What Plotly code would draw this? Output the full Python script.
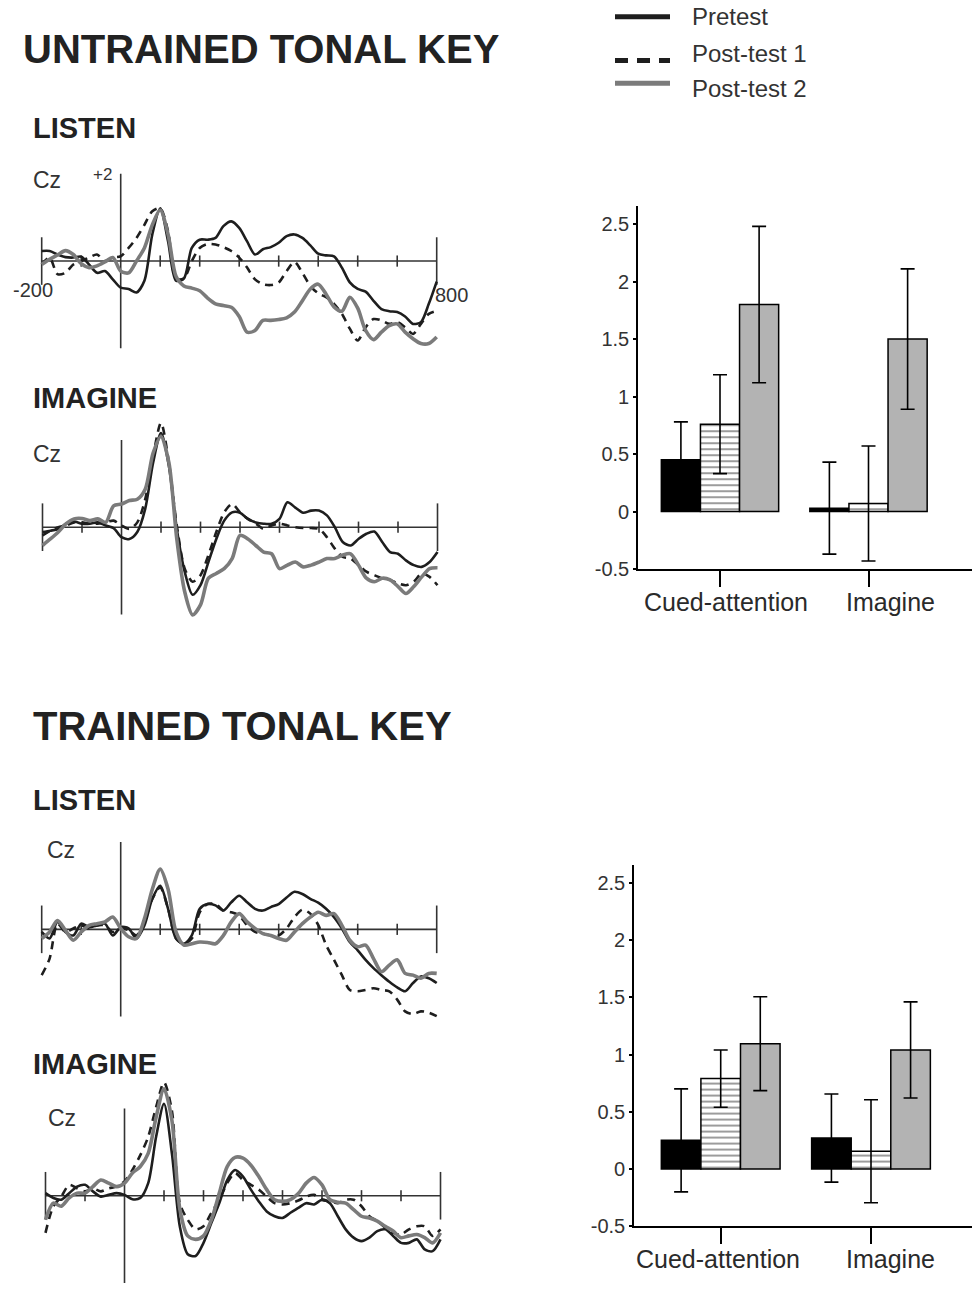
import plotly.graph_objects as go

W, H = 972, 1294
FONT = "Liberation Sans, Arial, sans-serif"

# ---------------- data ----------------
TIMES = [-200, -180, -160, -140, -120, -100, -80, -60, -40, -20, 0, 20, 40, 60, 80, 100,
         120, 140, 160, 180, 200, 220, 240, 260, 280, 300, 320, 340, 360, 380, 400, 420,
         440, 460, 480, 500, 520, 540, 560, 580, 600, 620, 640, 660, 680, 700, 720, 740,
         760, 780, 800]

SERIES = ["Pretest", "Post-test 1", "Post-test 2"]

# Untrained tonal key - LISTEN (uV)
U_LISTEN_PRE = [0.23, 0.23, 0.15, 0.09, 0.08, 0.10, -0.08, -0.27, -0.23, -0.42, -0.61, -0.64, -0.72,
                -0.45, 0.61, 1.21, 0.45, -0.45, -0.40, 0.30, 0.49, 0.49, 0.53, 0.80, 0.91, 0.76, 0.45,
                0.15, 0.27, 0.32, 0.42, 0.57, 0.61, 0.53, 0.36, 0.17, 0.13, 0.11, -0.15, -0.49, -0.64,
                -0.70, -0.91, -1.10, -1.15, -1.17, -1.27, -1.44, -1.40, -0.98, -0.47]
U_LISTEN_P1 = [-0.08, 0.08, -0.30, -0.27, -0.08, 0.0, 0.08, 0.15, 0.0, 0.08, 0.11, 0.30, 0.53, 0.83,
               1.14, 1.21, 0.68, -0.40, -0.40, 0.0, 0.30, 0.39, 0.38, 0.32, 0.23, 0.08, -0.15, -0.42,
               -0.53, -0.55, -0.49, -0.23, -0.02, -0.27, -0.57, -0.74, -0.83, -0.98, -1.21, -1.55,
               -1.82, -1.52, -1.33, -1.36, -1.44, -1.40, -1.52, -1.67, -1.44, -1.21, -1.14]
U_LISTEN_P2 = [-0.08, 0.04, 0.14, 0.24, 0.15, -0.06, -0.15, -0.11, -0.02, 0.08, -0.23, -0.27, 0.0,
               0.30, 0.83, 1.17, 0.61, -0.35, -0.57, -0.62, -0.68, -0.85, -0.98, -1.02, -1.06, -1.27,
               -1.63, -1.59, -1.36, -1.36, -1.34, -1.30, -1.17, -0.91, -0.64, -0.53, -0.76, -1.05,
               -1.15, -0.83, -1.08, -1.59, -1.80, -1.63, -1.48, -1.44, -1.63, -1.78, -1.89, -1.89, -1.74]

# Untrained tonal key - IMAGINE
U_IMAG_PRE = [-0.11, -0.08, -0.04, 0.08, 0.13, 0.08, 0.08, 0.11, 0.04, -0.02, -0.23, -0.27, -0.11,
              0.42, 1.48, 2.16, 1.40, -0.04, -1.02, -1.55, -1.33, -0.80, -0.27, 0.15, 0.34, 0.33, 0.19,
              0.11, 0.08, 0.08, 0.19, 0.57, 0.45, 0.33, 0.38, 0.38, 0.27, 0.0, -0.34, -0.42, -0.27,
              -0.15, -0.10, -0.34, -0.57, -0.61, -0.76, -0.87, -0.91, -0.80, -0.57]
U_IMAG_P1 = [-0.19, -0.08, 0.0, 0.04, 0.11, 0.11, 0.08, 0.08, 0.11, 0.15, 0.04, -0.04, 0.11, 0.64,
             1.63, 2.39, 1.48, 0.04, -0.95, -1.25, -1.10, -0.64, -0.11, 0.34, 0.53, 0.34, 0.19, 0.08,
             -0.04, 0.04, 0.08, 0.04, 0.0, -0.02, -0.02, -0.04, -0.23, -0.49, -0.68, -0.72, -0.87,
             -1.02, -1.10, -1.17, -1.21, -1.29, -1.33, -1.25, -1.06, -1.14, -1.33]
U_IMAG_P2 = [-0.42, -0.27, -0.11, 0.08, 0.19, 0.20, 0.15, 0.19, 0.11, 0.49, 0.53, 0.61, 0.64, 0.87,
             1.70, 2.08, 1.48, -0.27, -1.48, -2.01, -1.78, -1.17, -1.06, -0.95, -0.72, -0.19, -0.27,
             -0.42, -0.57, -0.61, -0.95, -0.87, -0.80, -0.91, -0.87, -0.80, -0.72, -0.72, -0.64,
             -0.61, -0.87, -1.17, -1.25, -1.17, -1.21, -1.36, -1.52, -1.36, -1.14, -0.95, -0.93]

# Trained tonal key - LISTEN
T_LISTEN_PRE = [-0.06, -0.21, 0.17, -0.06, -0.14, 0.13, 0.05, 0.09, 0.13, -0.14, 0.05, 0.02, -0.21,
                0.09, 0.70, 1.00, 0.47, -0.21, -0.33, -0.14, 0.47, 0.58, 0.55, 0.43, 0.62, 0.77, 0.62,
                0.47, 0.43, 0.51, 0.58, 0.73, 0.86, 0.81, 0.70, 0.61, 0.47, 0.28, 0.02, -0.29, -0.48,
                -0.70, -0.89, -1.05, -1.20, -1.33, -1.42, -1.23, -1.08, -1.12, -1.23]
T_LISTEN_P1 = [-1.05, -0.67, 0.13, -0.06, 0.02, 0.09, 0.02, 0.09, 0.09, -0.06, 0.02, -0.02, -0.14,
               0.17, 0.70, 0.96, 0.47, -0.21, -0.33, -0.21, 0.39, 0.58, 0.58, 0.43, 0.39, 0.32, 0.09,
               -0.06, -0.10, -0.14, -0.14, 0.02, 0.28, 0.45, 0.36, 0.10, -0.36, -0.70, -1.05, -1.39,
               -1.42, -1.39, -1.35, -1.39, -1.42, -1.61, -1.88, -1.94, -1.88, -1.91, -1.99]
T_LISTEN_P2 = [-0.21, -0.06, 0.20, -0.02, -0.25, -0.06, 0.09, 0.13, 0.17, 0.28, 0.02, -0.17, -0.21,
               0.24, 0.92, 1.38, 0.92, -0.06, -0.36, -0.33, -0.29, -0.30, -0.33, -0.14, 0.17, 0.36,
               0.17, 0.02, -0.10, -0.14, -0.21, -0.25, -0.06, 0.13, 0.28, 0.39, 0.32, 0.36, 0.09,
               -0.25, -0.40, -0.36, -0.67, -0.97, -0.82, -0.70, -1.01, -1.05, -1.12, -1.01, -1.01]

# Trained tonal key - IMAGINE
T_IMAG_PRE = [0.06, -0.05, -0.09, 0.06, 0.21, 0.25, 0.10, -0.02, 0.02, 0.06, 0.02, -0.08, -0.05,
              0.29, 1.35, 2.11, 0.97, -0.70, -1.34, -1.38, -1.08, -0.62, -0.17, 0.36, 0.59, 0.44,
              0.14, -0.13, -0.36, -0.47, -0.51, -0.39, -0.28, -0.17, -0.20, -0.09, -0.17, -0.47,
              -0.77, -0.96, -1.04, -0.96, -0.81, -0.77, -0.92, -1.08, -1.08, -1.00, -1.23, -1.27, -1.00]
T_IMAG_P1 = [-0.85, -0.24, -0.02, 0.25, 0.17, 0.10, 0.17, 0.10, 0.17, 0.21, 0.33, 0.59, 0.93, 1.35,
             2.03, 2.60, 1.95, -0.17, -0.55, -0.77, -0.70, -0.39, -0.09, 0.29, 0.52, 0.36, 0.25,
             0.14, -0.02, -0.17, -0.20, -0.17, -0.11, -0.02, 0.02, -0.09, -0.13, -0.17, -0.09, -0.09,
             -0.24, -0.47, -0.58, -0.73, -0.85, -0.89, -0.77, -0.70, -0.70, -0.92, -0.77]
T_IMAG_P2 = [-0.55, -0.17, -0.24, -0.05, 0.06, 0.06, 0.21, 0.36, 0.29, 0.21, 0.29, 0.52, 0.67, 0.97,
             1.80, 2.45, 1.73, -0.30, -0.92, -1.00, -0.92, -0.55, 0.06, 0.67, 0.88, 0.86, 0.70, 0.44,
             0.14, -0.09, -0.13, -0.09, 0.05, 0.29, 0.42, 0.25, -0.09, -0.15, -0.17, -0.32, -0.47,
             -0.51, -0.58, -0.70, -0.81, -0.96, -0.92, -0.89, -0.96, -1.08, -0.85]

ERP_TICKS = [-100, 100, 200, 300, 400, 500, 600, 700]
ERP_ENDS = [-200, 800]

# Bar charts (mean amplitude, error)
BAR_CATEGORIES = ["Cued-attention", "Imagine"]
UNTRAINED_VALUES = {"Pretest": [0.45, 0.03], "Post-test 1": [0.76, 0.07], "Post-test 2": [1.80, 1.50]}
UNTRAINED_ERRORS = {"Pretest": [0.33, 0.40], "Post-test 1": [0.43, 0.50], "Post-test 2": [0.68, 0.61]}
TRAINED_VALUES = {"Pretest": [0.25, 0.27], "Post-test 1": [0.79, 0.155], "Post-test 2": [1.095, 1.04]}
TRAINED_ERRORS = {"Pretest": [0.45, 0.385], "Post-test 1": [0.25, 0.45], "Post-test 2": [0.41, 0.42]}
BAR_TICKVALS = [-0.5, 0, 0.5, 1, 1.5, 2, 2.5]
BAR_TICKTEXT = ["-0.5", "0", "0.5", "1", "1.5", "2", "2.5"]

# ---------------- helpers ----------------
def fx(px):
    return px / W


def fy(py):
    return 1 - py / H


LINE_STYLES = {
    "Pretest": dict(color="#1e1e1e", width=2.6, dash="solid"),
    "Post-test 1": dict(color="#1e1e1e", width=2.6, dash="8px,6px"),
    "Post-test 2": dict(color="#7b7b7b", width=3.6, dash="solid"),
}
BAR_STYLES = {
    "Pretest": dict(color="black", line=dict(color="black", width=1.5)),
    "Post-test 1": dict(color="white", line=dict(color="black", width=1.5),
                        pattern=dict(shape="-", fgcolor="#222222", bgcolor="white", size=6, solidity=0.3)),
    "Post-test 2": dict(color="#b3b3b3", line=dict(color="black", width=1.5)),
}

fig = go.Figure()
layout_axes = {}
shapes = []
annotations = []

PX_PER_UV = 44.0
T_MIN, T_MAX = -215, 815

erp_panels = [
    dict(series=[U_LISTEN_PRE, U_LISTEN_P1, U_LISTEN_P2], left=41.7, right=436.7, base=263.3, yr=(-2.3, 2.7)),
    dict(series=[U_IMAG_PRE, U_IMAG_P1, U_IMAG_P2], left=42.5, right=437.5, base=531.7, yr=(-2.3, 2.7)),
    dict(series=[T_LISTEN_PRE, T_LISTEN_P1, T_LISTEN_P2], left=41.7, right=436.7, base=937.3, yr=(-2.3, 2.7)),
    dict(series=[T_IMAG_PRE, T_IMAG_P1, T_IMAG_P2], left=45.5, right=440.5, base=1206.0, yr=(-2.0, 2.7)),
]

for i, p in enumerate(erp_panels):
    n = i + 1
    xs = "x" if n == 1 else f"x{n}"
    ys = "y" if n == 1 else f"y{n}"
    ppm = (p["right"] - p["left"]) / 1000.0
    x0 = p["left"] + (T_MIN + 200) * ppm
    x1 = p["left"] + (T_MAX + 200) * ppm
    top = p["base"] - p["yr"][1] * PX_PER_UV
    bot = p["base"] - p["yr"][0] * PX_PER_UV
    layout_axes["xaxis" if n == 1 else f"xaxis{n}"] = dict(
        domain=[max(0, fx(x0)), min(1, fx(x1))], range=[T_MIN, T_MAX], visible=False,
        anchor=ys, fixedrange=True)
    layout_axes["yaxis" if n == 1 else f"yaxis{n}"] = dict(
        domain=[max(0, fy(bot)), min(1, fy(top))], range=list(p["yr"]), visible=False,
        anchor=xs, fixedrange=True)

    # axis lines
    shapes.append(dict(type="line", xref=xs, yref=ys, x0=ERP_ENDS[0], x1=ERP_ENDS[1], y0=0, y1=0,
                       line=dict(color="#333333", width=1.6), layer="below"))
    shapes.append(dict(type="line", xref=xs, yref=ys, x0=0, x1=0, y0=-2, y1=2,
                       line=dict(color="#333333", width=1.6), layer="below"))
    fig.add_trace(go.Scatter(x=ERP_TICKS, y=[0] * len(ERP_TICKS), mode="markers", xaxis=xs, yaxis=ys,
                             marker=dict(symbol="line-ns", size=8, line=dict(color="#333333", width=1.6)),
                             showlegend=False, hoverinfo="skip", cliponaxis=False))
    fig.add_trace(go.Scatter(x=ERP_ENDS, y=[0] * len(ERP_ENDS), mode="markers", xaxis=xs, yaxis=ys,
                             marker=dict(symbol="line-ns", size=34, line=dict(color="#333333", width=1.6)),
                             showlegend=False, hoverinfo="skip", cliponaxis=False))
    for name, vals in zip(SERIES, p["series"]):
        st = LINE_STYLES[name]
        fig.add_trace(go.Scatter(x=TIMES, y=vals, mode="lines", name=name, xaxis=xs, yaxis=ys,
                                 line=dict(color=st["color"], width=st["width"], dash=st["dash"],
                                           shape="spline", smoothing=0.8),
                                 showlegend=False))

# ---------------- bar charts ----------------
bar_panels = [
    dict(values=UNTRAINED_VALUES, errors=UNTRAINED_ERRORS, axis_px=638, top=208, bottom=574,
         yr=(-0.5, 2.655), cat_px=(720, 868.5), label_px=((726, 607), (890, 607))),
    dict(values=TRAINED_VALUES, errors=TRAINED_ERRORS, axis_px=634, top=872, bottom=1236.7,
         yr=(-0.5, 2.66), cat_px=(720.7, 871), label_px=((718, 1270), (890, 1270))),
]

for j, b in enumerate(bar_panels):
    n = 5 + j
    xs, ys = f"x{n}", f"y{n}"
    unit = b["cat_px"][1] - b["cat_px"][0]
    xr0 = -(b["cat_px"][0] - b["axis_px"]) / unit
    xr1 = 1 + (W - b["cat_px"][1]) / unit
    layout_axes[f"xaxis{n}"] = dict(
        domain=[fx(b["axis_px"]), 1.0], range=[xr0, xr1], anchor=ys, showline=True,
        linecolor="black", linewidth=1.6, ticks="outside", ticklen=16, tickwidth=1.6,
        tickcolor="black", tickvals=[0, 1], showticklabels=False, showgrid=False,
        zeroline=False, fixedrange=True)
    layout_axes[f"yaxis{n}"] = dict(
        domain=[fy(b["bottom"]), fy(b["top"])], range=list(b["yr"]), anchor=xs, showline=True,
        linecolor="black", linewidth=1.6, ticks="outside", ticklen=3, tickwidth=1.6,
        tickcolor="black", tickvals=BAR_TICKVALS, ticktext=BAR_TICKTEXT,
        tickfont=dict(family=FONT, size=20, color="#333333"), showgrid=False, zeroline=False,
        fixedrange=True)
    for name in SERIES:
        fig.add_trace(go.Bar(x=[0, 1], y=b["values"][name], name=name, xaxis=xs, yaxis=ys,
                             marker=BAR_STYLES[name],
                             error_y=dict(type="data", array=b["errors"][name], color="black",
                                          thickness=1.6, width=7),
                             showlegend=False, hoverinfo="skip"))
    for cat, (lx, ly) in zip(BAR_CATEGORIES, b["label_px"]):
        annotations.append(dict(text=cat, xref="paper", yref="paper", x=fx(lx), y=fy(ly),
                                xanchor="center", yanchor="middle", showarrow=False,
                                font=dict(family=FONT, size=25, color="#2a2a2a")))

# ---------------- text ----------------
def label(text, x, y, size, bold=False, color="#222222"):
    annotations.append(dict(text=f"<b>{text}</b>" if bold else text, xref="paper", yref="paper",
                            x=fx(x), y=fy(y), xanchor="left", yanchor="middle", showarrow=False,
                            font=dict(family=FONT, size=size, color=color)))


label("UNTRAINED TONAL KEY", 21, 49, 40, bold=True)
label("LISTEN", 31, 129, 29, bold=True)
label("IMAGINE", 31, 401, 29, bold=True)
label("TRAINED TONAL KEY", 31, 732, 40, bold=True)
label("LISTEN", 31, 807, 29, bold=True)
label("IMAGINE", 31, 1073, 29, bold=True)
label("Cz", 31, 182, 23, color="#333333")
label("Cz", 31, 458, 23, color="#333333")
label("Cz", 45, 857, 23, color="#333333")
label("Cz", 46, 1128, 23, color="#333333")
label("+2", 91, 176, 17, color="#333333")
label("-200", 11, 292, 20, color="#333333")
label("800", 433, 298, 20, color="#333333")

# legend (drawn manually to match the original key)
legend_rows = [(17, 17), (61, 54), (84, 89)]
for name, (ly, ty) in zip(SERIES, legend_rows):
    st = LINE_STYLES[name]
    dash = "13px,9px" if st["dash"] != "solid" else "solid"
    shapes.append(dict(type="line", xref="paper", yref="paper", x0=fx(615), x1=fx(670),
                       y0=fy(ly), y1=fy(ly), line=dict(color=st["color"], width=5, dash=dash)))
    label(name, 690, ty, 24, color="#333333")

fig.update_layout(
    width=W, height=H, margin=dict(l=0, r=0, t=0, b=0),
    paper_bgcolor="white", plot_bgcolor="white",
    barmode="group", bargap=0.21, bargroupgap=0.0,
    showlegend=False, shapes=shapes, annotations=annotations,
    font=dict(family=FONT), **layout_axes)

fig.write_html("out.html")
